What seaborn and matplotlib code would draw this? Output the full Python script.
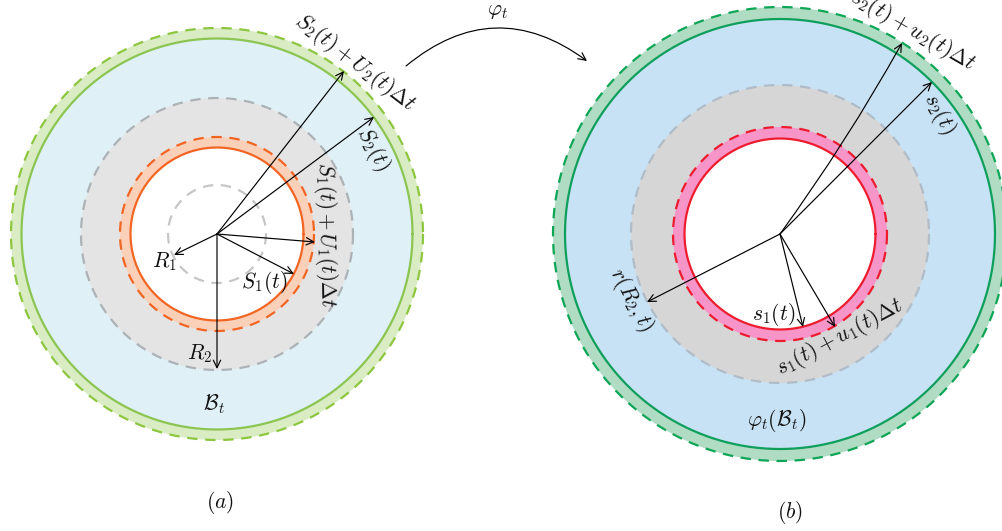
import numpy as np
import pandas as pd
import matplotlib
matplotlib.use('Agg')
import matplotlib.pyplot as plt
import seaborn as sns

sns.set_theme(style='white')
plt.rcParams['mathtext.fontset'] = 'cm'
plt.rcParams['font.family'] = ['DejaVu Serif']
plt.rcParams['lines.scale_dashes'] = False

# left disc (a), everything in image pixels
center_a = (217, 234)
radii_a = [206, 195.5, 136, 97, 86.5]
fills_a = ['#d9ecc3', '#dff0f7', '#e4e4e4', '#fbd0b9', '#ffffff']
edges_a = ['#8dc63f', '#8cc552', '#acb2b6', '#f26522', '#f26522']
dashed_a = [True, False, True, True, False]
inner_dash_r = 49

# right disc (b)
center_b = (780, 234)
radii_b = [227, 215, 149, 107, 95.5]
fills_b = ['#b1dcc4', '#c7e2f4', '#d6d6d6', '#f795c9', '#ffffff']
edges_b = ['#0da556', '#0f9f5c', '#b0bcc8', '#ed1c2e', '#ed1c2e']
dashed_b = [True, False, True, True, False]

# arrow tips
tips_a = [(344, 71), (374, 117), (315, 242), (294, 274), (174, 255), (217, 369)]
bend_a = [0, 0, 0, 0, 0, 0]
tips_b = [(902, 43), (932, 82), (803, 327), (835, 327), (647, 302)]
bend_b = [0.03, 0, 0, 0, 0]

# label text, x, y, rotation
labels = [
    (r'$S_2(t)+U_2(t)\Delta t$', 355, 63, -37.5),
    (r'$S_2(t)$', 373, 149, -62),
    (r'$S_1(t)+U_1(t)\Delta t$', 326, 235, -89),
    (r'$S_1(t)$', 264, 282, 0),
    (r'$R_1$', 164, 262, 0),
    (r'$R_2$', 200, 354, 0),
    (r'$\mathcal{B}_t$', 214, 404, 0),
    (r'$(a)$', 220, 503, 0),
    (r'$s_2(t)+u_2(t)\Delta t$', 913, 30, -30),
    (r'$s_2(t)$', 939, 114, -62),
    (r'$s_1(t)$', 774, 315, 0),
    (r'$s_1(t)+u_1(t)\Delta t$', 840, 337, 28),
    (r'$r(R_2,t)$', 631, 300, -62),
    (r'$\varphi_t(\mathcal{B}_t)$', 777, 420, 0),
    (r'$(b)$', 790, 513, 0),
    (r'$\varphi_t$', 497, 10, 0),
]

theta = np.linspace(0, 2 * np.pi, 721)


def circle_df(center, r):
    return pd.DataFrame({'x': center[0] + r * np.cos(theta),
                         'y': center[1] + r * np.sin(theta)})


def draw_disc(ax, center, radii, fills, edges, dashed):
    for r, fill, edge, is_dashed in zip(radii, fills, edges, dashed):
        df = circle_df(center, r)
        ax.fill(df['x'], df['y'], color=fill, lw=0)
        style = (0, (7.5, 5.5)) if is_dashed else '-'
        sns.lineplot(data=df, x='x', y='y', sort=False, estimator=None, ax=ax,
                     color=edge, lw=1.6, linestyle=style, legend=False)


def draw_arrow(ax, start, end, rad=0, lw=0.85):
    ax.annotate('', xy=end, xytext=start,
                arrowprops=dict(arrowstyle='->,head_length=0.45,head_width=0.22',
                                color='black', lw=lw, shrinkA=0, shrinkB=0,
                                connectionstyle=f'arc3,rad={rad}'))


fig = plt.figure(figsize=(10.02, 5.31), dpi=100)
ax = fig.add_axes([0, 0, 1, 1])

draw_disc(ax, center_a, radii_a, fills_a, edges_a, dashed_a)
sns.lineplot(data=circle_df(center_a, inner_dash_r), x='x', y='y', sort=False,
             estimator=None, ax=ax, color='#c6c6c6', lw=1.6,
             linestyle=(0, (7.5, 5.5)), legend=False)
draw_disc(ax, center_b, radii_b, fills_b, edges_b, dashed_b)

for tip, rad in zip(tips_a, bend_a):
    draw_arrow(ax, center_a, tip, rad)
for tip, rad in zip(tips_b, bend_b):
    draw_arrow(ax, center_b, tip, rad)

# map arrow between the two discs
draw_arrow(ax, (406, 66), (587, 61), rad=-0.39)

for text, x, y, rot in labels:
    ax.text(x, y, text, fontsize=15.5, color='#111111', rotation=rot,
            ha='center', va='center', rotation_mode='anchor')

ax.set_xlim(0, 1002)
ax.set_ylim(531, 0)
ax.set_xlabel('')
ax.set_ylabel('')
ax.axis('off')

fig.savefig('out.png', dpi=100)
